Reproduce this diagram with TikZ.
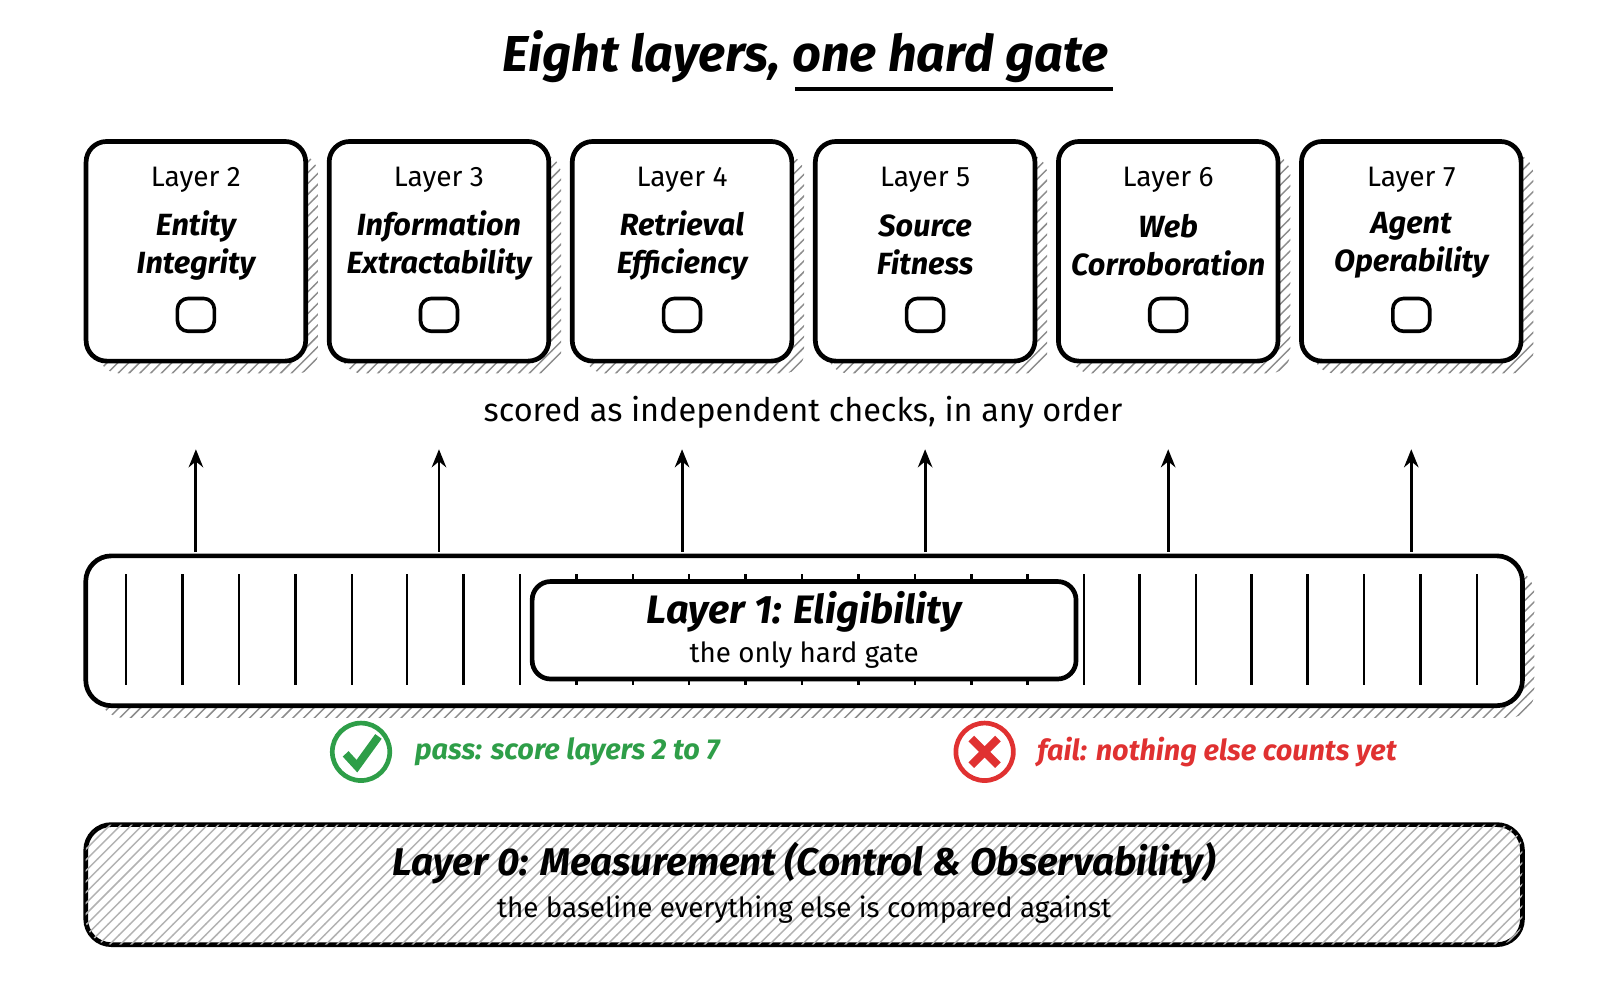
\documentclass[tikz,border=0pt]{standalone}
\usepackage{fontspec}
\setmainfont{Fira Sans}
\usetikzlibrary{patterns,arrows.meta}
\definecolor{okgreen}{HTML}{2E9E48}
\definecolor{badred}{HTML}{E03131}
\tikzset{
  box/.style={draw=black,line width=1.3pt,rounded corners=0.2cm,fill=white,inner sep=0},
  shadow/.style={pattern=north east lines,pattern color=black!45,draw=none},
  big/.style={font=\fontsize{8.5}{10.5}\selectfont\bfseries\itshape,align=center},
  small/.style={font=\fontsize{7.8}{9}\selectfont},
  chk/.style={draw=black,line width=1pt,rounded corners=3,minimum width=0.36cm,minimum height=0.32cm,inner sep=0},
  up/.style={-{Stealth[length=5pt,width=4pt,open]},line width=0.8pt},
  tick/.style={line width=0.7pt},
  pf/.style={anchor=west,font=\fontsize{8}{10}\selectfont\bfseries\itshape}
}
\begin{document}
\begin{tikzpicture}[x=0.01cm,y=-0.01cm]
\useasboundingbox (0,0) rectangle (1560,975);
\node[font=\fontsize{14}{16}\selectfont\bfseries\itshape] (title) at (785,55) {Eight layers, one hard gate};
\coordinate (ul1) at (775,87); \coordinate (ul2) at (1085,87);
\draw[line width=1.2pt] (ul1) -- (ul2);
% top boxes
\foreach \i/\cx/\n/\a/\b in {a/191/2/Entity/Integrity,b/428/3/Information/Extractability,c/665/4/Retrieval/Efficiency,d/902/5/Source/Fitness,e/1139/6/Web/Corroboration,f/1376/7/Agent/Operability}{
  \fill[shadow,rounded corners=0.2cm] (\cx-95,150) rectangle (\cx+119,364);
  \node[box,minimum width=2.14cm,minimum height=2.14cm] (box\i) at (\cx,245) {};
  \node[small] (lab\i) at (\cx,175) {Layer \n};
  \node[big] (t\i) at (\cx,239) {\a\\\b};
  \node[chk] (c\i) at (\cx,307) {};
  \coordinate (src\i) at (\cx,538);
  \coordinate (dst\i) at (\cx,438);
}
\node[font=\fontsize{9}{11}\selectfont] (scored) at (783,402) {scored as independent checks, in any order};
% layer 1
\fill[shadow,rounded corners=0.25cm] (96,554) rectangle (1496,700);
\node[box,rounded corners=0.25cm,minimum width=14cm,minimum height=1.46cm] (l1) at (784,615) {};
\foreach \x in {123,178,233,288,343,397,452,507,562,617,672,727,782,837,892,947,1002,1057,1111,1166,1220,1275,1330,1385,1440}{
  \draw[tick] (\x,560) -- (\x,668);
}
\node[box,rounded corners=0.18cm,minimum width=5.3cm,minimum height=0.95cm] (l1in) at (784,614.5) {};
\node[font=\fontsize{11}{13}\selectfont\bfseries\itshape] (l1t) at (784,597) {Layer 1: Eligibility};
\node[font=\fontsize{7.7}{9}\selectfont] (l1s) at (784,639) {the only hard gate};
\foreach \i in {a,b,c,d,e,f}{ \draw[up] (src\i) -- (dst\i); }
% pass / fail
\node[circle,draw=okgreen,line width=1.3pt,minimum size=0.56cm,inner sep=0] (pass) at (352,733) {};
\draw[okgreen,line width=2.2pt] (337,735) -- (348,747) -- (369,718);
\node[pf,text=okgreen] (passt) at (392,733) {pass: score layers 2 to 7};
\node[circle,draw=badred,line width=1.3pt,minimum size=0.56cm,inner sep=0] (fail) at (960,733) {};
\draw[badred,line width=2.2pt] (947,720) -- (973,746) (973,720) -- (947,746);
\node[pf,text=badred] (failt) at (999,733) {fail: nothing else counts yet};
% layer 0
\node[box,rounded corners=0.25cm,minimum width=14cm,minimum height=1.17cm,
  postaction={pattern=north east lines,pattern color=black!30}] (l0) at (784,862.5) {};
\node[font=\fontsize{10.7}{13}\selectfont\bfseries\itshape] (l0t) at (784,842) {Layer 0: Measurement (Control \& Observability)};
\node[font=\fontsize{7.7}{9}\selectfont] (l0s) at (784,887) {the baseline everything else is compared against};
\end{tikzpicture}
\end{document}
